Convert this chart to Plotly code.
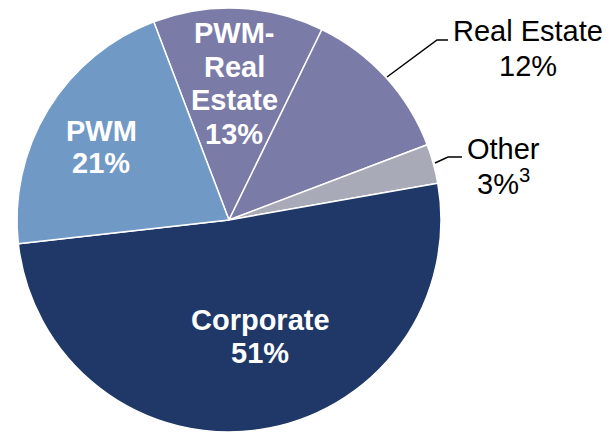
import plotly.graph_objects as go

W, H = 616, 439
OFF = 8  # browser body margin offset compensation

# Data
categories = ["PWM-Real Estate", "Real Estate", "Other", "Corporate", "PWM"]
values = [13, 12, 3, 51, 21]
label_lines = [
    ["PWM-", "Real", "Estate", "13%"],
    ["Real Estate", "12%"],
    ["Other", "3%<sup>3</sup>"],
    ["Corporate", "51%"],
    ["PWM", "21%"],
]

# Styles / positions (pixel coordinates of each label block's first line, line spacing)
colors = ["#7b7ba8", "#7b7ba8", "#a9aab8", "#1f3868", "#7099c6"]
label_pos = [(234, 33, 33.5), (528, 31, 35), (503, 149, 33), (260, 320, 33), (101, 131, 32)]
label_color = ["white", "black", "black", "white", "white"]
label_bold = [True, False, False, True, True]
leader_lines = [
    [(387, 77), (437, 40), (448, 40)],
    [(435, 163), (448, 157), (462, 157)],
]

cx, cy, r = 229, 220, 212


def px(x):
    return (x - OFF) / W


def py(y):
    return 1 - (y - OFF) / H


fig = go.Figure(go.Pie(
    labels=categories,
    values=values,
    sort=False,
    direction="clockwise",
    rotation=-20.8,
    textinfo="none",
    hoverinfo="label+percent",
    marker=dict(colors=colors, line=dict(color="white", width=1.5)),
    domain=dict(x=[px(cx - r), px(cx + r)], y=[py(cy + r), py(cy - r)]),
    showlegend=False,
))

annotations = []
for lines, (x, y0, dy), col, bold in zip(label_lines, label_pos, label_color, label_bold):
    for i, line in enumerate(lines):
        txt = f"<b>{line}</b>" if bold else line
        annotations.append(dict(
            x=px(x), y=py(y0 + i * dy), xref="paper", yref="paper",
            text=txt, showarrow=False, xanchor="center", yanchor="middle",
            font=dict(family="Arial, Liberation Sans, sans-serif", size=29, color=col),
        ))

shapes = []
for pts in leader_lines:
    path = "M " + " L ".join(f"{px(a)},{py(b)}" for a, b in pts)
    shapes.append(dict(type="path", path=path, xref="paper", yref="paper",
                       line=dict(color="black", width=1.5)))

fig.update_layout(
    width=W, height=H,
    margin=dict(l=0, r=0, t=0, b=0),
    paper_bgcolor="white", plot_bgcolor="white",
    annotations=annotations, shapes=shapes,
)

fig.write_html("out.html")
